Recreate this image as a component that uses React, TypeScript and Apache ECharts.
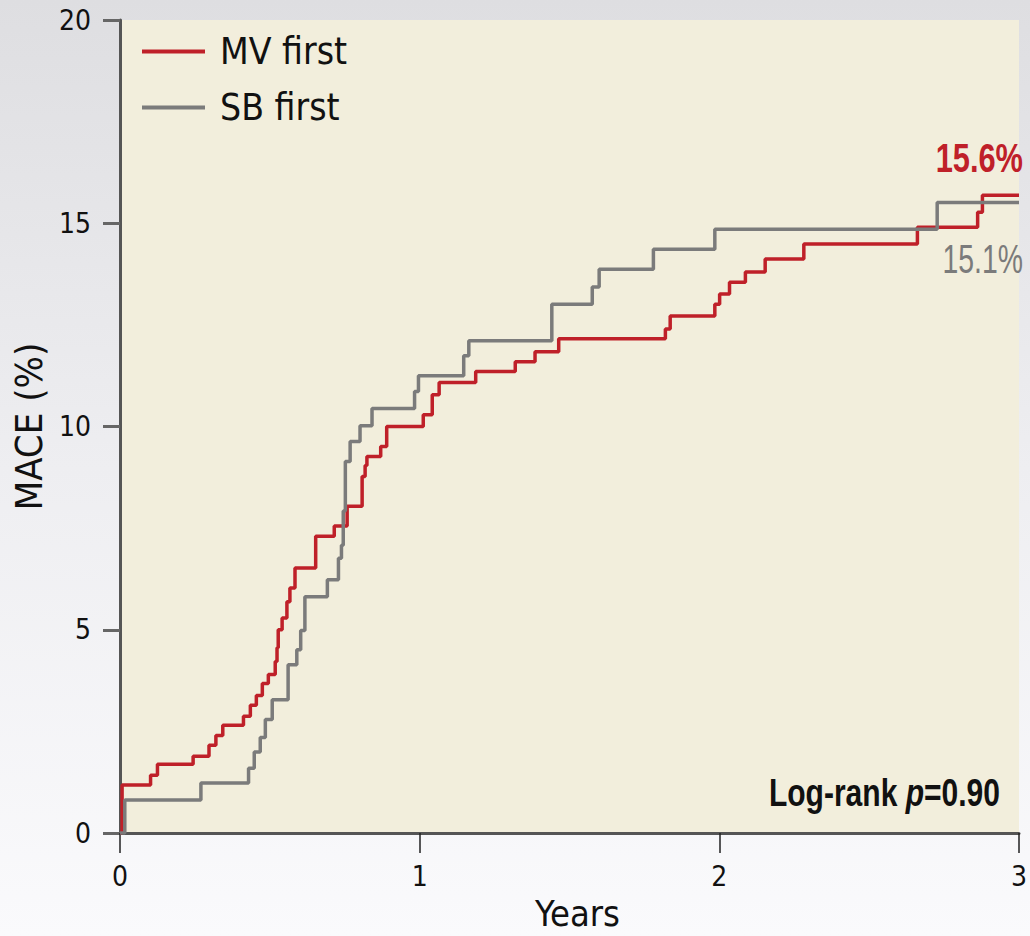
import React, { useEffect, useRef } from "react";
import * as echarts from "echarts";

// Kaplan-Meier step data (years, MACE %)
const mvTimes = [0, 0.007, 0.102, 0.125, 0.244, 0.297, 0.320, 0.343, 0.412, 0.435, 0.455, 0.475, 0.495, 0.518, 0.524, 0.528, 0.541, 0.557, 0.567, 0.584, 0.653, 0.715, 0.758, 0.808, 0.818, 0.824, 0.870, 0.890, 1.012, 1.042, 1.065, 1.187, 1.319, 1.385, 1.464, 1.820, 1.836, 1.985, 2.001, 2.034, 2.087, 2.153, 2.282, 2.661, 2.862, 2.878, 3.0];
const mvValues = [0, 1.18, 1.42, 1.69, 1.89, 2.16, 2.40, 2.65, 2.87, 3.14, 3.38, 3.68, 3.90, 4.22, 4.56, 5.00, 5.29, 5.69, 6.03, 6.52, 7.30, 7.55, 8.04, 8.77, 9.04, 9.26, 9.51, 10.00, 10.29, 10.78, 11.08, 11.35, 11.59, 11.84, 12.16, 12.40, 12.72, 13.01, 13.26, 13.55, 13.80, 14.12, 14.49, 14.90, 15.27, 15.69, 15.69];

const sbTimes = [0, 0.016, 0.270, 0.429, 0.448, 0.468, 0.485, 0.508, 0.561, 0.590, 0.603, 0.617, 0.692, 0.729, 0.739, 0.745, 0.752, 0.768, 0.801, 0.841, 0.983, 0.996, 1.147, 1.164, 1.441, 1.576, 1.599, 1.780, 1.985, 2.727, 3.0];
const sbValues = [0, 0.81, 1.23, 1.59, 1.99, 2.35, 2.79, 3.28, 4.14, 4.51, 4.98, 5.81, 6.23, 6.76, 7.08, 7.92, 9.14, 9.63, 10.02, 10.44, 10.86, 11.25, 11.74, 12.11, 13.01, 13.43, 13.87, 14.36, 14.85, 15.51, 15.51];

const seriesNames = ["MV first", "SB first"];
const endLabels = ["15.6%", "15.1%"];
const pValueText = "0.90";
const xTicks = { min: 0, max: 3, interval: 1 };
const yTicks = { min: 0, max: 20, interval: 5 };

const RED = "#BF2029";
const GRAY = "#7B7B7B";
const ARIAL = "'Liberation Sans', Arial, sans-serif";
const COND = "'DejaVu Sans Condensed', 'DejaVu Sans', sans-serif";

export default function App() {
  const ref = useRef<HTMLDivElement>(null);
  useEffect(() => {
    document.body.style.margin = "0";
    const chart = echarts.init(ref.current!, null, { renderer: "svg" });
    const mvData = mvTimes.map((t, i) => [t, mvValues[i]]);
    const sbData = sbTimes.map((t, i) => [t, sbValues[i]]);
    chart.setOption({
      animation: false,
      backgroundColor: new echarts.graphic.LinearGradient(0, 0, 0, 1, [
        { offset: 0, color: "#DEDEE1" },
        { offset: 0.5, color: "#EEEEF1" },
        { offset: 1, color: "#FAFAFC" },
      ]),
      grid: {
        left: 120,
        right: 0,
        top: 20,
        bottom: 100,
        show: true,
        backgroundColor: "#F2EEDC",
        borderWidth: 0,
      },
      legend: {
        data: seriesNames,
        orient: "vertical",
        left: 137,
        top: 28,
        itemWidth: 63,
        itemHeight: 4,
        itemGap: 19,
        icon: "rect",
        textStyle: {
          fontSize: 37,
          fontFamily: COND,
          color: "#111",
          padding: [0, 0, 0, 10],
        },
      },
      xAxis: {
        type: "value",
        ...xTicks,
        name: "Years",
        nameLocation: "middle",
        nameGap: 62,
        nameTextStyle: { fontSize: 36, fontFamily: COND, color: "#111", padding: [0, 0, 0, 16] },
        axisLine: { show: true, lineStyle: { color: "#555", width: 3 } },
        axisTick: { show: true, length: 20, lineStyle: { color: "#222", width: 1.5 } },
        axisLabel: { margin: 29, fontSize: 28, fontFamily: COND, color: "#111", showMaxLabel: true },
        splitLine: { show: false },
      },
      yAxis: {
        type: "value",
        ...yTicks,
        name: "MACE (%)",
        nameLocation: "middle",
        nameGap: 62,
        nameTextStyle: { fontSize: 38, fontFamily: COND, color: "#111" },
        axisLine: { show: true, lineStyle: { color: "#555", width: 3 } },
        axisTick: { show: true, length: 17, lineStyle: { color: "#666", width: 3 } },
        axisLabel: { margin: 29, fontSize: 28, fontFamily: COND, color: "#111" },
        splitLine: { show: false },
      },
      series: [
        {
          name: seriesNames[0],
          type: "line",
          step: "end",
          showSymbol: false,
          color: RED,
          lineStyle: { color: RED, width: 3.5 },
          data: mvData,
          z: 2,
        },
        {
          name: seriesNames[1],
          type: "line",
          step: "end",
          showSymbol: false,
          color: GRAY,
          lineStyle: { color: GRAY, width: 3.5 },
          data: sbData,
          z: 3,
        },
      ],
      graphic: [
        {
          type: "text",
          x: 1023,
          y: 159,
          scaleX: 0.77,
          style: {
            text: endLabels[0],
            align: "right",
            verticalAlign: "middle",
            fontSize: 40,
            fontWeight: "bold",
            fontFamily: ARIAL,
            fill: RED,
          },
        },
        {
          type: "text",
          x: 1023,
          y: 259,
          scaleX: 0.71,
          style: {
            text: endLabels[1],
            align: "right",
            verticalAlign: "middle",
            fontSize: 40,
            fontFamily: ARIAL,
            fill: GRAY,
          },
        },
        {
          type: "text",
          x: 1000,
          y: 792,
          scaleX: 0.77,
          style: {
            text: "Log-rank {i|p}=" + pValueText,
            align: "right",
            verticalAlign: "middle",
            fontSize: 39,
            fontWeight: "bold",
            fontFamily: ARIAL,
            fill: "#111",
            rich: {
              i: { fontSize: 39, fontWeight: "bold", fontStyle: "italic", fontFamily: ARIAL, fill: "#111" },
            },
          },
        },
      ],
    });
    return () => chart.dispose();
  }, []);
  return <div ref={ref} style={{ width: 1030, height: 936 }} />;
}
